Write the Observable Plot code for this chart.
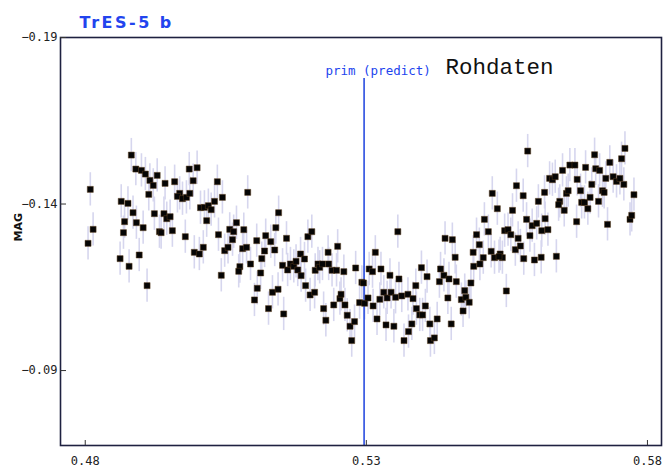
<!DOCTYPE html>
<html><head><meta charset="utf-8">
<script src="https://cdn.jsdelivr.net/npm/d3@7"></script>
<script src="https://cdn.jsdelivr.net/npm/@observablehq/plot@0.6"></script>
<style>body{margin:0;background:#fff} #chart{width:666px;height:468px} .ttl text{letter-spacing:2.5px}</style>
</head><body><div id="chart"></div>
<script>
const phase = [
0.4809,0.4814,0.4805,0.4882,0.4890,0.4900,0.4907,0.4928,0.4915,0.4921,
0.4913,0.4864,0.4876,0.4885,0.4870,0.4891,0.4868,0.4903,0.4862,0.4878,
0.4896,0.4910,0.4942,0.4923,0.4940,0.4945,0.4951,0.4932,0.4935,0.4955,
0.4959,0.4985,0.4999,0.4992,0.4968,0.4964,0.4973,0.4980,0.4986,0.4978,
0.4994,0.5003,0.5010,0.5035,0.5044,0.5005,0.5012,0.5019,0.5024,0.5030,
0.5016,0.5037,0.5042,0.5048,0.5054,0.5057,0.5064,0.5069,0.5062,0.5075,
0.5073,0.5089,0.5082,0.5080,0.5087,0.5094,0.5105,0.5114,0.5119,0.5112,
0.5106,0.5101,0.5121,0.5130,0.5137,0.5139,0.5144,0.5126,0.5133,0.5143,
0.5158,0.5151,0.5160,0.5153,0.5165,0.5171,0.5175,0.5178,0.5183,0.5184,
0.5190,0.5192,0.5196,0.5203,0.5200,0.5208,0.5209,0.5214,0.5217,0.5222,
0.5232,0.5233,0.5224,0.5228,0.5239,0.5247,0.5249,0.5242,0.5253,0.5255,
0.5260,0.5262,0.5266,0.5271,0.5279,0.5274,0.5281,0.5288,0.5292,0.5295,
0.5297,0.5303,0.5305,0.5311,0.5316,0.5312,0.5319,0.5326,0.5324,0.5331,
0.5337,0.5342,0.5344,0.5335,0.5349,0.5352,0.5356,0.5358,0.5363,0.5367,
0.5374,0.5375,0.5381,0.5383,0.5388,0.5389,0.5395,0.5400,0.5398,0.5408,
0.5405,0.5413,0.5414,0.5421,0.5426,0.5432,0.5430,0.5438,0.5440,0.5447,
0.5453,0.5458,0.5445,0.5451,0.5460,0.5469,0.5472,0.5475,0.5477,0.5483,
0.5486,0.5490,0.5491,
0.5587,0.5524,0.5533,0.5567,0.5579,0.5560,0.5510,0.5517,0.5496,0.5501,
0.5502,0.5508,0.5522,0.5528,0.5538,0.5542,0.5536,
0.5549,0.5546,0.5552,0.5557,0.5570,0.5565,0.5574,0.5580,0.5585,0.5591,
0.5595,0.5603,0.5599,0.5606,0.5612,0.5618,0.5623,0.5611,0.5617,0.5626,
0.5631,0.5636,0.5638,0.5649,0.5644,0.5642,0.5652,0.5656,0.5659,0.5662,
0.5671,0.5675,0.5674,0.5681,0.5683,0.5688,0.5694,0.5690,0.5698,0.5701,
0.5706,0.5708,0.5715,0.5713,0.5720,0.5723,0.5726,0.5729,0.5733,0.5739,
0.5745,0.5751,0.5754,0.5760,0.5758,0.5769,0.5772,0.5776
];
const mag = [
-0.1444,-0.1324,-0.1282,-0.1547,-0.1505,-0.1501,-0.1490,-0.1486,-0.1471,-0.1456,
-0.1429,-0.1408,-0.1402,-0.1374,-0.1347,-0.1344,-0.1314,-0.1329,-0.1236,-0.1213,
-0.1247,-0.1155,-0.1462,-0.1371,-0.1371,-0.1356,-0.1362,-0.1317,-0.1314,-0.1320,
-0.1467,-0.1505,-0.1509,-0.1470,-0.1432,-0.1423,-0.1416,-0.1420,-0.1432,-0.1302,
-0.1255,-0.1250,-0.1270,-0.1467,-0.1420,-0.1389,-0.1390,-0.1395,-0.1383,-0.1408,
-0.1350,-0.1308,-0.1186,-0.1260,-0.1270,-0.1324,-0.1317,-0.1344,-0.1293,-0.1212,
-0.1198,-0.1435,-0.1323,-0.1266,-0.1270,-0.1220,-0.1290,-0.1236,-0.1259,-0.1193,
-0.1147,-0.1112,-0.1305,-0.1287,-0.1262,-0.1329,-0.1374,-0.1086,-0.1135,-0.1144,
-0.1297,-0.1216,-0.1202,-0.1070,-0.1220,-0.1213,-0.1228,-0.1202,-0.1250,-0.1185,
-0.1235,-0.1155,-0.1302,-0.1317,-0.1127,-0.1135,-0.1201,-0.1220,-0.1210,-0.1220,
-0.1255,-0.1220,-0.1086,-0.1051,-0.1201,-0.1201,-0.1273,-0.1097,-0.1116,-0.1129,
-0.1197,-0.1097,-0.1066,-0.1033,-0.1047,-0.0990,-0.1208,-0.1104,-0.1165,-0.1163,
-0.1102,-0.1118,-0.1205,-0.1197,-0.1255,-0.1094,-0.1055,-0.1205,-0.1114,-0.1135,
-0.1118,-0.1186,-0.1135,-0.1037,-0.1033,-0.1120,-0.1317,-0.1175,-0.1124,-0.0990,
-0.1129,-0.1017,-0.1040,-0.1116,-0.1155,-0.1086,-0.1067,-0.1067,-0.1209,-0.1182,
-0.1094,-0.1040,-0.0990,-0.0998,-0.1055,-0.1205,-0.1167,-0.1186,-0.1297,-0.1175,
-0.1293,-0.1240,-0.1118,-0.1040,-0.1167,-0.1113,-0.1079,-0.1140,-0.1120,-0.1105,
-0.1163,-0.1255,-0.1213,
-0.1559,-0.1432,-0.1386,-0.1455,-0.1425,-0.1381,-0.1354,-0.1317,-0.1308,-0.1278,
-0.1220,-0.1239,-0.1258,-0.1239,-0.1250,-0.1239,-0.1242,
-0.1139,-0.1320,-0.1323,-0.1308,-0.1297,-0.1263,-0.1274,-0.1236,-0.1354,-0.1305,
-0.1335,-0.1342,-0.1232,-0.1408,-0.1320,-0.1356,-0.1323,-0.1240,-0.1435,-0.1477,
-0.1473,-0.1482,-0.1243,-0.1501,-0.1408,-0.1398,-0.1381,-0.1432,-0.1440,-0.1517,
-0.1517,-0.1474,-0.1347,-0.1440,-0.1405,-0.1405,-0.1386,-0.1510,-0.1420,-0.1459,
-0.1548,-0.1506,-0.1501,-0.1408,-0.1440,-0.1435,-0.1477,-0.1339,-0.1525,-0.1482,
-0.1468,-0.1477,-0.1536,-0.1567,-0.1459,-0.1354,-0.1366,-0.1428
];
const magErr = 0.005;
const xTicks = [0.48, 0.53, 0.58];
const yTicks = [-0.19, -0.14, -0.09];
const xDomain = [0.4756, 0.5825];
const yDomain = [-0.19, -0.0675];
const primPhase = [0.5296];
const primTop = -0.1777;
const titleText = ["TrES-5 b"];
const noteText = ["Rohdaten"];
const primLabel = "prim (predict)";
const yLabel = ["MAG"];

const table = phase.map((p, i) => ({phase: p, mag: mag[i]}));
const fmt = d3.format(".2f");

const chart = Plot.plot({
  width: 666, height: 468,
  marginLeft: 60, marginTop: 37, marginRight: 5, marginBottom: 23,
  x: {domain: xDomain, label: null},
  y: {domain: yDomain, reverse: true, label: null},
  style: {fontFamily: "DejaVu Sans Mono", fontSize: "12px", color: "#222", background: "#fff"},
  marks: [
    Plot.ruleX(table, {x: "phase", y1: d => d.mag - magErr, y2: d => d.mag + magErr, stroke: "#d6d6ee", strokeWidth: 1.6}),
    Plot.ruleX(primPhase, {x: d => d, y1: () => primTop, y2: () => yDomain[1], stroke: "#2a4de0", strokeWidth: 1.6}),
    Plot.text(primPhase, {x: d => d, y: () => primTop, text: () => primLabel, dx: 14, dy: -7, fill: "#2244ee", fontSize: 12.5, fontFamily: "DejaVu Sans Mono"}),
    Plot.dot(table, {x: "phase", y: "mag", symbol: "square", r: 3.4, fill: "#050505", stroke: "#5a3d1c", strokeWidth: 0.5}),
    Plot.frame({stroke: "#1e2140", strokeWidth: 1.6}),
    Plot.axisX({ticks: xTicks, tickFormat: fmt, tickSize: -5, tickPadding: 16, stroke: "#333", fill: "#222", label: null}),
    Plot.axisY({ticks: yTicks, tickFormat: fmt, tickSize: -6, tickPadding: 9, stroke: "#333", fill: "#222", label: null}),
    Plot.text(titleText, {frameAnchor: "top-left", text: d => d, dx: 19, dy: -21, textAnchor: "start", fill: "#2244ee", fontSize: 16, fontWeight: "bold", fontFamily: "DejaVu Sans", className: "ttl"}),
    Plot.text(noteText, {frameAnchor: "top-right", text: d => d, dx: -216, dy: 21, textAnchor: "start", fill: "#111", fontSize: 22.5, fontFamily: "Liberation Mono"}),
    Plot.text(yLabel, {frameAnchor: "left", text: d => d, rotate: -90, dx: -42, dy: 0, fill: "#111", fontSize: 11, fontWeight: "bold", fontFamily: "DejaVu Sans"})
  ]
});
document.getElementById("chart").append(chart);
</script>
</body></html>
